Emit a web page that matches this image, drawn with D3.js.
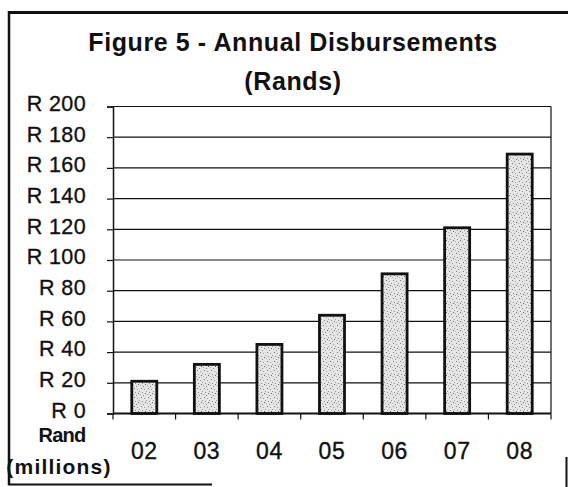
<!DOCTYPE html>
<html>
<head>
<meta charset="utf-8">
<script src="https://cdn.jsdelivr.net/npm/d3@7"></script>
<style>
  html, body { margin: 0; padding: 0; background: #fff; }
  svg { display: block; }
</style>
</head>
<body>
<svg id="chart" width="568" height="487"></svg>
<script>
// Annual disbursements, in millions of rand, by year
const years = ["02", "03", "04", "05", "06", "07", "08"];
const disbursements = [21, 32, 45, 64, 91, 121, 169];
const yTicks = [0, 20, 40, 60, 80, 100, 120, 140, 160, 180, 200];
const titleLines = ["Figure 5 - Annual Disbursements", "(Rands)"];
const axisTitleLines = ["Rand", "(millions)"];

const ink = "#111";
const font = "'Liberation Sans', Arial, sans-serif";

const svg = d3.select("#chart");

// plot area
const plot = { left: 113, right: 551, top: 106.5, bottom: 413.5 };

const x = d3.scaleBand()
  .domain(years)
  .range([plot.left, plot.right])
  .paddingInner(0.6)
  .paddingOuter(0.3);

const y = d3.scaleLinear()
  .domain([0, 200])
  .range([plot.bottom, plot.top]);

// stippled fill for the bars
const defs = svg.append("defs");
const pat = defs.append("pattern")
  .attr("id", "stipple")
  .attr("patternUnits", "userSpaceOnUse")
  .attr("width", 7).attr("height", 9);
pat.append("rect").attr("width", 7).attr("height", 9).attr("fill", "#e6e6e6");
const dots = [[1, 1, "#777"], [4, 2, "#999"], [2, 5, "#888"], [5, 6, "#666"], [0, 7, "#aaa"], [6, 4, "#999"], [3, 8, "#888"]];
pat.selectAll("rect.d").data(dots).join("rect")
  .attr("class", "d")
  .attr("x", d => d[0]).attr("y", d => d[1])
  .attr("width", 1).attr("height", 1)
  .attr("fill", d => d[2]);

// outer frame
const frame = svg.append("g").attr("stroke", ink).attr("fill", "none");
frame.append("line").attr("x1", 8).attr("x2", 568).attr("y1", 12.5).attr("y2", 12.5).attr("stroke-width", 3);
frame.append("line").attr("x1", 9).attr("x2", 9).attr("y1", 11).attr("y2", 485).attr("stroke-width", 2.5);
frame.append("line").attr("x1", 8).attr("x2", 212).attr("y1", 484.5).attr("y2", 484.5).attr("stroke-width", 2);
frame.append("line").attr("x1", 566.5).attr("x2", 566.5).attr("y1", 457).attr("y2", 487).attr("stroke-width", 2);

// title
svg.append("g").selectAll("text").data(titleLines).join("text")
  .attr("x", 293)
  .attr("y", (d, i) => i === 0 ? 51 : 90)
  .attr("text-anchor", "middle")
  .attr("font-family", font)
  .attr("font-weight", "bold")
  .attr("font-size", "25px")
  .attr("letter-spacing", "0.6px")
  .attr("fill", ink)
  .text(d => d);

// horizontal gridlines
svg.append("g")
  .selectAll("line").data(yTicks.filter(t => t > 0)).join("line")
  .attr("x1", plot.left).attr("x2", plot.right)
  .attr("y1", d => y(d)).attr("y2", d => y(d))
  .attr("stroke", ink).attr("stroke-width", 1.2);

// right edge of plot area
svg.append("line")
  .attr("x1", plot.right).attr("x2", plot.right)
  .attr("y1", plot.top).attr("y2", plot.bottom)
  .attr("stroke", ink).attr("stroke-width", 1.2);

// y axis
const yAxis = svg.append("g")
  .attr("transform", `translate(${plot.left},0)`)
  .call(d3.axisLeft(y).tickValues(yTicks).tickSize(6).tickPadding(21)
    .tickFormat(d => "R " + d));
yAxis.select(".domain").attr("stroke", ink).attr("stroke-width", 1.5);
yAxis.selectAll(".tick line").attr("stroke", ink).attr("stroke-width", 1.2);
yAxis.selectAll(".tick text")
  .attr("font-family", font)
  .attr("font-size", "21.5px")
  .attr("letter-spacing", "0.4px")
  .attr("fill", ink)
  .attr("stroke", ink)
  .attr("stroke-width", 0.35)
  .attr("dy", "0.18em");

// bars
svg.append("g").selectAll("rect").data(years).join("rect")
  .attr("x", d => x(d))
  .attr("width", x.bandwidth())
  .attr("y", (d, i) => y(disbursements[i]))
  .attr("height", (d, i) => y(0) - y(disbursements[i]))
  .attr("fill", "url(#stipple)")
  .attr("stroke", ink)
  .attr("stroke-width", 2.8);

// x axis: ticks between categories
const boundaries = years.map(d => x(d) - x.step() * x.paddingInner() / 2);
boundaries.push(plot.right);
const xAxis = svg.append("g");
xAxis.append("line")
  .attr("x1", plot.left).attr("x2", plot.right)
  .attr("y1", plot.bottom).attr("y2", plot.bottom)
  .attr("stroke", ink).attr("stroke-width", 2);
xAxis.selectAll("line.tk").data(boundaries).join("line")
  .attr("class", "tk")
  .attr("x1", d => d).attr("x2", d => d)
  .attr("y1", plot.bottom).attr("y2", plot.bottom + 6)
  .attr("stroke", ink).attr("stroke-width", 1.2);
xAxis.selectAll("text").data(years).join("text")
  .attr("x", d => x(d) + x.bandwidth() / 2)
  .attr("y", 459)
  .attr("text-anchor", "middle")
  .attr("font-family", font)
  .attr("font-size", "23px")
  .attr("letter-spacing", "0.6px")
  .attr("fill", ink)
  .attr("stroke", ink)
  .attr("stroke-width", 0.35)
  .text(d => d);

// units label under the y axis
svg.append("g").selectAll("text").data(axisTitleLines).join("text")
  .attr("x", (d, i) => i === 0 ? 62 : 59)
  .attr("y", (d, i) => i === 0 ? 442 : 474)
  .attr("text-anchor", "middle")
  .attr("font-family", font)
  .attr("font-weight", "bold")
  .attr("font-size", (d, i) => i === 0 ? "20px" : "21px")
  .attr("letter-spacing", (d, i) => i === 0 ? "-0.8px" : "1.2px")
  .attr("fill", ink)
  .text(d => d);
</script>
</body>
</html>
